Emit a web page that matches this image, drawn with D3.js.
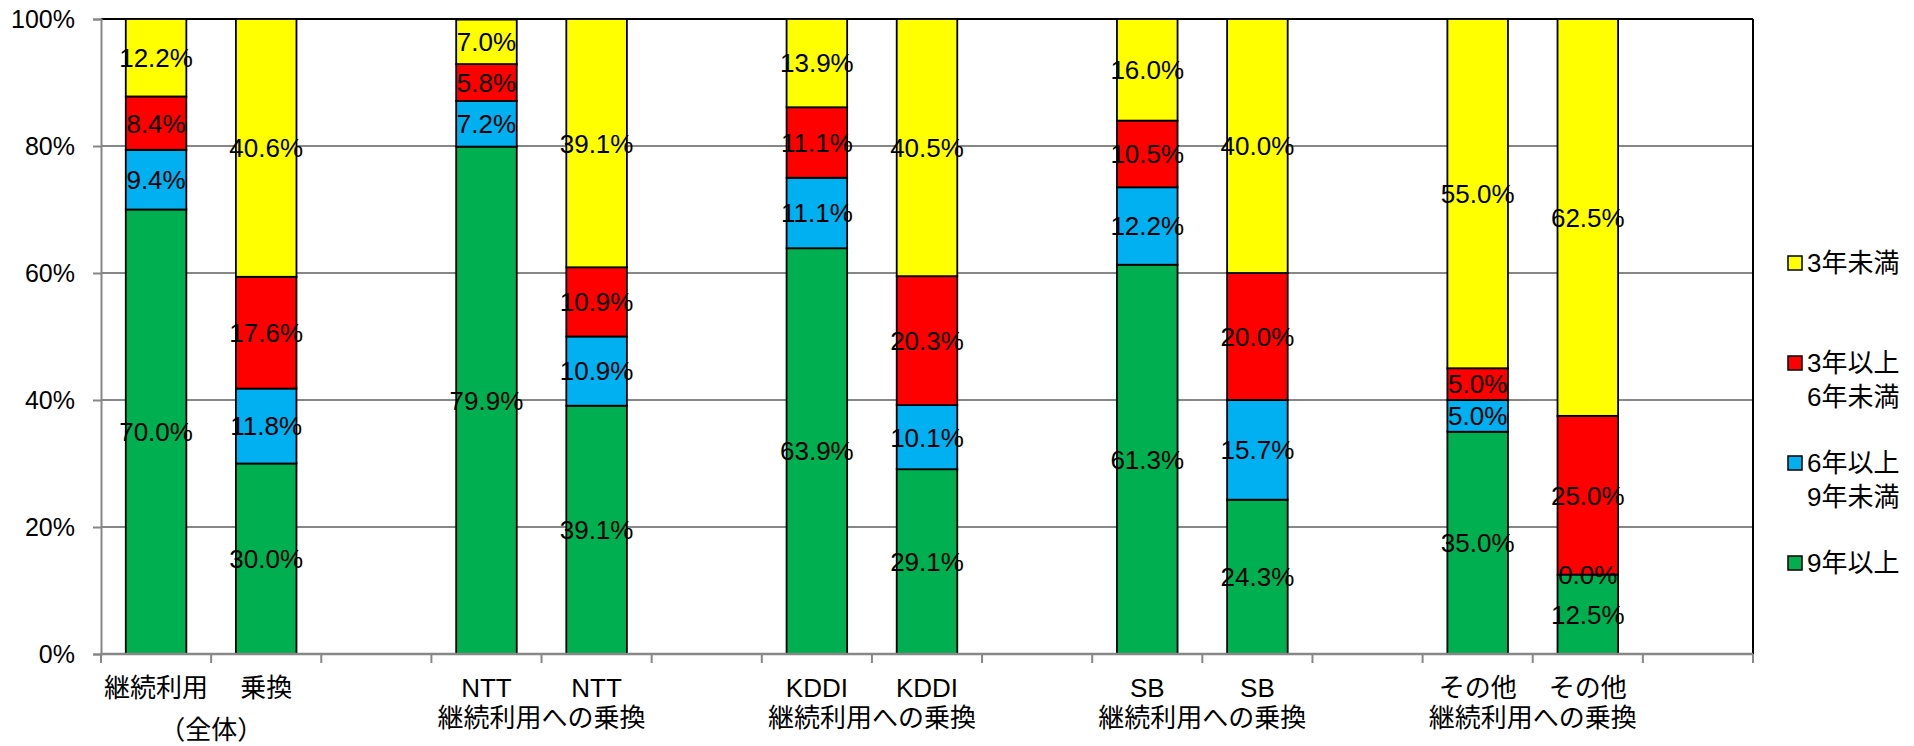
<!DOCTYPE html>
<html>
<head>
<meta charset="utf-8">
<script src="https://cdn.jsdelivr.net/npm/d3@7"></script>
<style>
  body { margin: 0; background: #fff; }
  text { font-family: "Liberation Sans", Arial, "Noto Sans CJK JP", sans-serif; fill: #000; }
</style>
</head>
<body>
<svg class="chart" width="1914" height="746"></svg>
<script>
// slots along the x axis (blank ones are the gaps between groups)
var slots = ["s0","s1","s2","s3","s4","s5","s6","s7","s8","s9","s10","s11","s12","s13","s14"];
var topLabels = ["継続利用","乗換","","NTT","NTT","","KDDI","KDDI","","SB","SB","","その他","その他",""];
// second line, centred between the two bars of a group
var groupLabels = ["（全体）","継続利用への乗換","継続利用への乗換","継続利用への乗換","継続利用への乗換"];
var groupStart = ["s0","s3","s6","s9","s12"];

var barSlots = ["s0","s1","s3","s4","s6","s7","s9","s10","s12","s13"];
var series = ["9年以上","6年以上\n9年未満","3年以上\n6年未満","3年未満"];
var colors = ["#00B050","#00B0F0","#FF0000","#FFFF00"];

var v9plus  = [70.0, 30.0, 79.9, 39.1, 63.9, 29.1, 61.3, 24.3, 35.0, 12.5];
var v6to9   = [ 9.4, 11.8,  7.2, 10.9, 11.1, 10.1, 12.2, 15.7,  5.0,  0.0];
var v3to6   = [ 8.4, 17.6,  5.8, 10.9, 11.1, 20.3, 10.5, 20.0,  5.0, 25.0];
var vUnder3 = [12.2, 40.6,  7.0, 39.1, 13.9, 40.5, 16.0, 40.0, 55.0, 62.5];

var yTicks = [0, 20, 40, 60, 80, 100];

var svg = d3.select(".chart");
var plotL = 101, plotR = 1753, plotT = 19, plotB = 654;

var x = d3.scaleBand().domain(slots).range([plotL, plotR]).padding(0);
var y = d3.scaleLinear().domain([0, 100]).range([plotB, plotT]);
var barW = x.bandwidth() * 0.55;

// gridlines
svg.append("g").selectAll("line")
  .data(yTicks.filter(function(d) { return d > 0 && d < 100; }))
  .enter().append("line")
  .attr("x1", plotL).attr("x2", plotR)
  .attr("y1", function(d) { return y(d); }).attr("y2", function(d) { return y(d); })
  .style("stroke", "#878787").style("stroke-width", 2);

// plot border top / right
svg.append("line").attr("x1", plotL).attr("x2", plotR).attr("y1", plotT).attr("y2", plotT)
  .style("stroke", "#000").style("stroke-width", 2);
svg.append("line").attr("x1", plotR).attr("x2", plotR).attr("y1", plotT).attr("y2", plotB)
  .style("stroke", "#000").style("stroke-width", 2);

// stacked rows
var rows = barSlots.map(function(s, i) {
  return { slot: s, v: [v9plus[i], v6to9[i], v3to6[i], vUnder3[i]] };
});

var bars = svg.append("g");
rows.forEach(function(r) {
  var base = 0;
  r.v.forEach(function(val, k) {
    var y0 = base, y1 = base + val;
    base = y1;
    bars.append("rect")
      .attr("x", x(r.slot) + (x.bandwidth() - barW) / 2)
      .attr("width", barW)
      .attr("y", y(y1))
      .attr("height", y(y0) - y(y1))
      .style("fill", colors[k])
      .style("stroke", "#000")
      .style("stroke-width", 1.8);
  });
});

// value labels
var labels = svg.append("g");
rows.forEach(function(r) {
  var base = 0;
  r.v.forEach(function(val) {
    var mid = base + val / 2;
    base += val;
    labels.append("text")
      .attr("x", x(r.slot) + x.bandwidth() / 2)
      .attr("y", y(mid))
      .attr("dy", "0.36em")
      .attr("text-anchor", "middle")
      .style("font-size", "26px")
      .text(val.toFixed(1) + "%");
  });
});

// y axis
var yAxis = svg.append("g").attr("transform", "translate(" + plotL + ",0)")
  .call(d3.axisLeft(y).tickValues(yTicks).tickSize(8).tickPadding(18)
    .tickFormat(function(d) { return d + "%"; }));
yAxis.select(".domain").style("stroke", "#878787").style("stroke-width", 2);
yAxis.selectAll(".tick line").style("stroke", "#878787").style("stroke-width", 2);
yAxis.selectAll("text").style("font-size", "25px")
  .style("font-family", "'Liberation Sans', Arial, sans-serif");

// x axis: ticks on the slot boundaries
var xg = svg.append("g");
xg.append("line").attr("x1", plotL).attr("x2", plotR).attr("y1", plotB).attr("y2", plotB)
  .style("stroke", "#878787").style("stroke-width", 2.5);
xg.selectAll(".xt").data(slots.concat(["end"])).enter().append("line")
  .attr("x1", function(d) { return d === "end" ? plotR : x(d); })
  .attr("x2", function(d) { return d === "end" ? plotR : x(d); })
  .attr("y1", plotB).attr("y2", plotB + 9)
  .style("stroke", "#878787").style("stroke-width", 2);

xg.selectAll(".xl").data(slots).enter().append("text")
  .attr("x", function(d) { return x(d) + x.bandwidth() / 2; })
  .attr("y", 688).attr("dy", "0.36em")
  .attr("text-anchor", "middle")
  .style("font-size", "26px")
  .text(function(d, i) { return topLabels[i]; });

xg.selectAll(".gl").data(groupLabels).enter().append("text")
  .attr("x", function(d, i) { return x(groupStart[i]) + x.bandwidth(); })
  .attr("y", function(d, i) { return i === 0 ? 730 : 718; }).attr("dy", "0.36em")
  .attr("text-anchor", "middle")
  .style("font-size", "26px")
  .text(function(d) { return d; });

// legend (top item = last series)
var legendOrder = [3, 2, 1, 0];
var legend = svg.append("g");
legendOrder.forEach(function(k, i) {
  var cy = 263 + i * 100;
  legend.append("rect")
    .attr("x", 1788).attr("y", cy - 7).attr("width", 14).attr("height", 14)
    .style("fill", colors[k]).style("stroke", "#000").style("stroke-width", 1.5);
  series[k].split("\n").forEach(function(line, j) {
    legend.append("text")
      .attr("x", 1807).attr("y", cy + j * 34).attr("dy", "0.36em")
      .style("font-size", "26px")
      .text(line);
  });
});
</script>
</body>
</html>
